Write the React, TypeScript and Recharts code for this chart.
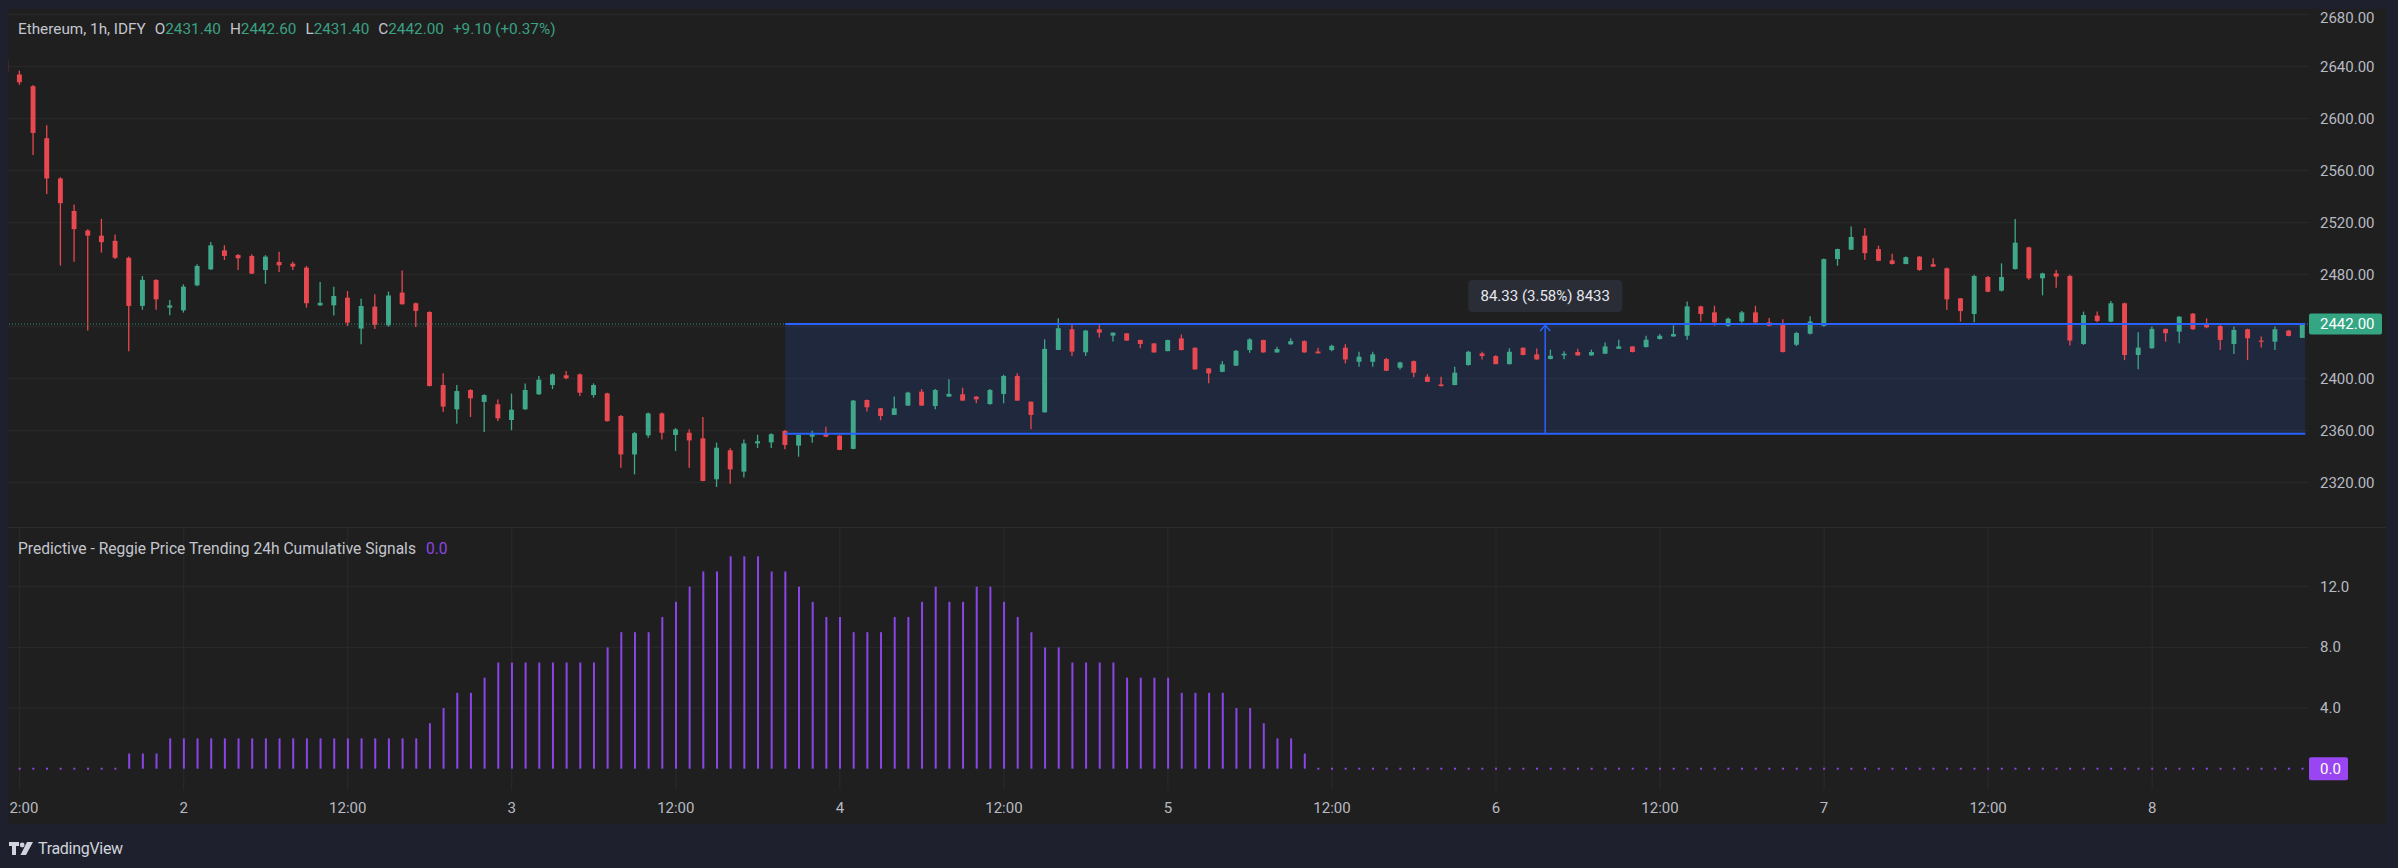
import React from 'react';
import {
  ComposedChart,
  Bar,
  Scatter,
  XAxis,
  YAxis,
  CartesianGrid,
  ReferenceLine,
  ReferenceArea,
} from 'recharts';

// ---------------- DATA ----------------
const FIRST_CANDLE_HOUR = -13; // hours from day "2" 00:00
const candleOpen = [
  2645, 2634, 2625, 2585, 2554, 2529, 2514, 2510, 2506, 2493, 2456, 2476,
  2454.6, 2452.6, 2471.8, 2484.1, 2498.7, 2495.1, 2494.4, 2483.6, 2489.8, 2488.5, 2485.4, 2456.4,
  2456.4, 2462.3, 2438.5, 2455.4, 2441, 2466.2, 2458, 2451.3, 2395.1, 2376.4, 2391.3, 2382.1,
  2380.3, 2368.2, 2376.4, 2388, 2395.1, 2402.6, 2403.3, 2387.4, 2388.7, 2371.3, 2341.7, 2356.4,
  2373.3, 2356.7, 2358.4, 2354.1, 2322.6, 2344.9, 2328.5, 2350.2, 2351, 2359.8, 2348.5, 2355.4,
  2357.5, 2356.2, 2346, 2383.6, 2377.2, 2372.1, 2379.3, 2390, 2379, 2386.2, 2388, 2386.2,
  2380.5, 2388.2, 2402.1, 2382.3, 2374.1, 2422.1, 2438, 2420.3, 2438, 2433.1, 2434.9, 2429.8,
  2427.1, 2421.2, 2431, 2423.8, 2407.9, 2405.3, 2410, 2422, 2429.7, 2420.2, 2426.4, 2428.9,
  2420.9, 2422, 2423.8, 2413, 2413, 2415.1, 2408.4, 2413.5, 2401.5, 2395.6, 2395.1, 2410.5,
  2419.4, 2417.4, 2411.2, 2423.8, 2418.7, 2415.1, 2417.9, 2420.5, 2417.9, 2419.2, 2423, 2424.8,
  2424.3, 2430.5, 2432.5, 2433, 2455.6, 2451, 2440.7, 2444, 2451, 2443.3, 2442.3, 2426.1,
  2434.6, 2440.7, 2492, 2499.2, 2510, 2499.7, 2491, 2488.2, 2493.9, 2488, 2484.9, 2461.8,
  2449.8, 2478.2, 2467.7, 2484.3, 2501, 2477.2, 2481, 2479, 2426.7, 2448.5, 2443.9, 2458,
  2418.2, 2423.4, 2438.3, 2436.2, 2450, 2441.3, 2440.5, 2426.7, 2438, 2429.3, 2428.5, 2437, 2431.4,
];
const candleHigh = [
  2648, 2637, 2626, 2595, 2555, 2534, 2515, 2523, 2511, 2494, 2479, 2476.5,
  2460.5, 2472.6, 2488, 2505.1, 2502.6, 2496, 2495.7, 2495, 2497.7, 2490, 2486.7, 2474.4,
  2470.8, 2467.4, 2461.5, 2464.9, 2467, 2483.3, 2458.5, 2451.8, 2404.1, 2395.1, 2392, 2388,
  2384, 2388.5, 2396.2, 2402, 2404, 2405.9, 2404, 2396.4, 2389.2, 2372, 2359, 2374,
  2374, 2362, 2361, 2370.5, 2350.8, 2346.4, 2353.3, 2356.9, 2358, 2360.5, 2357, 2360,
  2363.1, 2356.5, 2383.5, 2384, 2377.5, 2386.2, 2390, 2392.1, 2392, 2399.5, 2393, 2386.5,
  2392, 2403, 2404.1, 2382.5, 2430.3, 2446.4, 2441.3, 2437.5, 2441.3, 2435.5, 2435, 2430,
  2427.5, 2430, 2434, 2424, 2408, 2413.5, 2422, 2431, 2430, 2424.6, 2431, 2429.5,
  2423.8, 2426, 2426.6, 2420.7, 2420.7, 2416, 2413, 2414, 2403.5, 2401.5, 2409.2, 2421.5,
  2420.7, 2418, 2423.3, 2424, 2423.3, 2422.3, 2421, 2423, 2422.3, 2427.9, 2430, 2425,
  2433, 2434.3, 2441, 2459.4, 2456, 2456.1, 2447, 2452, 2456.1, 2446.6, 2445.8, 2436,
  2448, 2492.5, 2500, 2517.1, 2515.8, 2502.3, 2496.1, 2494, 2494.2, 2492.6, 2485.5, 2462,
  2480, 2479, 2488.7, 2522.8, 2501.5, 2481.5, 2483.6, 2480, 2451.6, 2451.6, 2459.8, 2458.5,
  2435.7, 2440.1, 2438.5, 2448, 2450.5, 2446.4, 2441, 2440.1, 2438.5, 2432.4, 2440.1, 2437.5, 2442.6,
];
const candleLow = [
  2634, 2626, 2572, 2542, 2487, 2490, 2437, 2497, 2492, 2421, 2453, 2453,
  2448.7, 2450.8, 2471, 2483.6, 2491.3, 2483.6, 2480.5, 2473, 2482, 2483.6, 2454.6, 2456,
  2448.5, 2440.5, 2426.4, 2438.3, 2440, 2457, 2439.7, 2394, 2374.4, 2365.4, 2370.5, 2359,
  2367.5, 2360.3, 2376, 2387.5, 2392, 2399.5, 2386.7, 2385.4, 2367, 2331.5, 2326.4, 2354.6,
  2353.3, 2344.3, 2331.5, 2321, 2316.7, 2319.2, 2323.9, 2346.6, 2346.6, 2345.7, 2340, 2350.8,
  2355, 2345, 2345.7, 2374.7, 2368, 2372, 2379, 2379, 2376.4, 2386, 2383, 2381,
  2380, 2381, 2383, 2361.1, 2374, 2422, 2417.5, 2417.5, 2431.6, 2428.5, 2429, 2423.4,
  2420, 2421, 2421.8, 2407, 2396.4, 2405, 2409.8, 2420, 2420, 2420, 2426, 2420,
  2419.4, 2421, 2411.7, 2409.2, 2409.2, 2405.8, 2407, 2401, 2397.4, 2394, 2394.9, 2410,
  2414.8, 2411, 2410.9, 2418, 2414.6, 2414.9, 2415, 2417.7, 2417.7, 2419, 2422.8, 2420.2,
  2424, 2430.2, 2432.2, 2430, 2444, 2440.7, 2440, 2443, 2442.8, 2440.3, 2420.2, 2425,
  2434, 2440, 2486.9, 2499, 2491.5, 2490.4, 2487.9, 2488, 2483, 2485.9, 2452.9, 2443.9,
  2443.4, 2466.5, 2467, 2484, 2476, 2464.1, 2470, 2425.5, 2426, 2443.4, 2443.4, 2414.3,
  2407.2, 2423, 2428.5, 2427.2, 2437.7, 2438.8, 2422.1, 2419, 2414.3, 2424, 2422, 2432.6, 2431.4,
];
const candleClose = [
  2636, 2628, 2589, 2554, 2535, 2515, 2510, 2505, 2493, 2456, 2476, 2461,
  2456.4, 2470.8, 2486.7, 2502.6, 2494.4, 2492.6, 2480.8, 2493.9, 2487.2, 2486.2, 2458, 2458.4,
  2463.6, 2443.1, 2455.9, 2441.4, 2464, 2457.2, 2452.1, 2394.4, 2378.5, 2390.5, 2384.9, 2387.4,
  2369.5, 2376.1, 2391.3, 2399.2, 2403.3, 2400.3, 2389.2, 2395.1, 2367.3, 2341.7, 2358.1, 2373.3,
  2358.4, 2361, 2352.5, 2321.3, 2346.9, 2330.2, 2350.2, 2351.9, 2357.3, 2349, 2356.7, 2357.5,
  2355.4, 2345.2, 2383.1, 2378, 2371.3, 2377.2, 2389.3, 2379.3, 2391.3, 2388.3, 2383.1, 2384.1,
  2391.3, 2402.1, 2383.1, 2372.1, 2422.9, 2438.8, 2420.8, 2437, 2435.4, 2435.4, 2429.3, 2426.7,
  2420.2, 2429.7, 2422, 2407.1, 2404.1, 2411, 2421.5, 2430.2, 2420.2, 2422.8, 2428.9, 2420.2,
  2419.5, 2425.3, 2414.8, 2416.9, 2418.7, 2406.1, 2412.5, 2404.6, 2397.6, 2394.3, 2404.6, 2420.7,
  2417.4, 2411.2, 2420.7, 2418.2, 2414.8, 2417.6, 2419.2, 2417.9, 2420.5, 2424.8, 2424.8, 2420.5,
  2430, 2433, 2434.3, 2455.6, 2449.7, 2443.3, 2446.1, 2451, 2443.3, 2440.7, 2420.5, 2435.1,
  2444, 2492, 2499.7, 2509, 2496.6, 2490.7, 2488.2, 2493.5, 2483.6, 2486.2, 2461, 2452,
  2479, 2466.9, 2478.2, 2504.6, 2477.2, 2481, 2478.5, 2429.3, 2449, 2444.4, 2458, 2418.2,
  2423.9, 2438.3, 2435, 2447.7, 2438, 2439.5, 2429.8, 2437.5, 2431.1, 2428.5, 2438, 2432.9, 2442,
];

const FIRST_SIGNAL_HOUR = -12;
const signalValues = [
  0, 0, 0, 0, 0, 0, 0, 0, 1, 1, 1, 2,
  2, 2, 2, 2, 2, 2, 2, 2, 2, 2, 2, 2,
  2, 2, 2, 2, 2, 2, 3, 4, 5, 5, 6, 7,
  7, 7, 7, 7, 7, 7, 7, 8, 9, 9, 9, 10,
  11, 12, 13, 13, 14, 14, 14, 13, 13, 12, 11, 10,
  10, 9, 9, 9, 10, 10, 11, 12, 11, 11, 12, 12,
  11, 10, 9, 8, 8, 7, 7, 7, 7, 6, 6, 6,
  6, 5, 5, 5, 5, 4, 4, 3, 2, 2, 1, 0,
  0, 0, 0, 0, 0, 0, 0, 0, 0, 0, 0, 0,
  0, 0, 0, 0, 0, 0, 0, 0, 0, 0, 0, 0,
  0, 0, 0, 0, 0, 0, 0, 0, 0, 0, 0, 0,
  0, 0, 0, 0, 0, 0, 0, 0, 0, 0, 0, 0,
  0, 0, 0, 0, 0, 0, 0, 0, 0, 0, 0, 0,
  0, 0, 0, 0, 0, 0, 0, 0, 0, 0, 0, 0,
];

const timeTicks = [-12, 0, 12, 24, 36, 48, 60, 72, 84, 96, 108, 120, 132, 144];
const timeTickLabels = ['12:00', '2', '12:00', '3', '12:00', '4', '12:00', '5', '12:00', '6', '12:00', '7', '12:00', '8'];
const priceGridValues = [2320, 2360, 2400, 2440, 2480, 2520, 2560, 2600, 2640, 2680];
const priceTicks = [2320, 2360, 2400, 2440, 2442, 2480, 2520, 2560, 2600, 2640, 2680];
const signalTicks = [0, 4, 8, 12];
const signalGridValues = [4, 8, 12];

const lastPrice = 2442.0;
const lastSignal = 0.0;
const measureLow = 2357.67;
const measureHigh = 2442.0;
const measureStartHour = 44;
const measureEndHour = 155.2;
const measureArrowHour = 99.6;
const measureLabelPrice = 2463.6;
const measureLabel = '84.33 (3.58%) 8433';

const titleSymbol = 'Ethereum, 1h, IDFY';
const titleOHLC = [
  ['O', '2431.40'],
  ['H', '2442.60'],
  ['L', '2431.40'],
  ['C', '2442.00'],
];
const titleChange = '+9.10 (+0.37%)';
const indicatorTitle = 'Predictive - Reggie Price Trending 24h Cumulative Signals';
const indicatorValue = '0.0';

// ---------------- STYLE ----------------
const FONT = "Roboto, 'Liberation Sans', Arial, sans-serif";
const UP = '#3fa88a';
const DOWN = '#e8484f';
const PURPLE = '#8b45e6';
const PURPLE_BOX = '#9a45f2';
const GRID = '#2b2b2b';
const AXIS_TEXT = '#b7bac2';
const BG = '#1f1f1f';
const FRAME = '#1e212d';
const BLUE = '#2962ff';

const X_DOMAIN: [number, number] = [-12.853, 155.4];
const PRICE_DOMAIN: [number, number] = [2285.9, 2683.6];
const SIGNAL_DOMAIN: [number, number] = [-1.404, 15.867];

const candleData = candleOpen.map((o, i) => ({
  h: FIRST_CANDLE_HOUR + i,
  o,
  hi: candleHigh[i],
  lo: candleLow[i],
  c: candleClose[i],
  range: [candleLow[i], candleHigh[i]],
}));

const signalData = signalValues.map((v, i) => ({ h: FIRST_SIGNAL_HOUR + i, sig: v }));
const zeroSignals = signalData.filter((d) => d.sig === 0);

const measureArrow = [{ h: measureArrowHour, p: measureHigh }];
const measureBox = [{ h: measureArrowHour, p: measureLabelPrice }];

// ---------------- SHAPES ----------------
const CandleShape = (props: any) => {
  const { x, y, width, height, payload } = props;
  if (x == null || y == null || !payload) return <g />;
  const { o, c, hi, lo } = payload;
  const span = hi - lo;
  const h = Math.abs(height || 0);
  const top = Math.min(y, y + (height || 0));
  const k = span > 0 ? h / span : 0;
  const yO = top + (hi - o) * k;
  const yC = top + (hi - c) * k;
  const col = c >= o ? UP : DOWN;
  const cx = x + width / 2;
  const bodyTop = Math.min(yO, yC);
  const bodyH = Math.max(1.2, Math.abs(yO - yC));
  return (
    <g>
      <line x1={cx} x2={cx} y1={top} y2={top + h} stroke={col} strokeWidth={1.3} />
      <rect x={x} y={bodyTop} width={width} height={bodyH} fill={col} />
    </g>
  );
};

const ArrowHead = (props: any) => {
  const { cx, cy } = props;
  if (cx == null) return <g />;
  return (
    <path
      d={`M${cx - 5},${cy + 7} L${cx},${cy + 1} L${cx + 5},${cy + 7}`}
      stroke={BLUE}
      strokeWidth={1.5}
      fill="none"
    />
  );
};

const MeasureLabel = (props: any) => {
  const { cx, cy } = props;
  if (cx == null) return <g />;
  return (
    <g>
      <rect x={cx - 77} y={cy - 16} width={154} height={32} rx={4} fill="#2a2d36" />
      <text
        x={cx}
        y={cy}
        textAnchor="middle"
        dominantBaseline="central"
        fill="#e6e8ee"
        fontSize={15}
        fontFamily={FONT}
      >
        {measureLabel}
      </text>
    </g>
  );
};

const ZeroMark = (props: any) => {
  const { cx, cy } = props;
  if (cx == null) return <g />;
  return <rect x={cx - 1} y={cy - 1} width={2} height={2} fill={PURPLE} />;
};

const PriceTick = (props: any) => {
  const { x, y, payload } = props;
  const v = payload?.value;
  if (v === 2440) return <g />;
  if (v === lastPrice) {
    return (
      <g>
        <rect x={x - 11} y={y - 10.5} width={73} height={21} rx={2} fill="#34a683" />
        <text x={x} y={y} dominantBaseline="central" fill="#ffffff" fontSize={15} fontFamily={FONT}>
          {lastPrice.toFixed(2)}
        </text>
      </g>
    );
  }
  // keep the top label inside the pane, as the reference does
  const ty = Math.max(y, 8.5);
  return (
    <text x={x} y={ty} dominantBaseline="central" fill={AXIS_TEXT} fontSize={15} fontFamily={FONT}>
      {Number(v).toFixed(2)}
    </text>
  );
};

const SignalTick = (props: any) => {
  const { x, y, payload } = props;
  const v = payload?.value;
  if (v === lastSignal) {
    return (
      <g>
        <rect x={x - 11} y={y - 11.5} width={39} height={23} rx={2} fill={PURPLE_BOX} />
        <text x={x} y={y} dominantBaseline="central" fill="#ffffff" fontSize={15} fontFamily={FONT}>
          {lastSignal.toFixed(1)}
        </text>
      </g>
    );
  }
  return (
    <text x={x} y={y} dominantBaseline="central" fill={AXIS_TEXT} fontSize={15} fontFamily={FONT}>
      {Number(v).toFixed(1)}
    </text>
  );
};

const TimeTick = (props: any) => {
  const { x, y, payload } = props;
  const idx = timeTicks.indexOf(payload?.value);
  const label = idx >= 0 ? timeTickLabels[idx] : '';
  return (
    <text
      x={x}
      y={y + 18}
      textAnchor="middle"
      dominantBaseline="central"
      fill={AXIS_TEXT}
      fontSize={15}
      fontFamily={FONT}
    >
      {label}
    </text>
  );
};

const TVLogo = () => (
  <svg width={26} height={14} viewBox="0 0 26 14" style={{ position: 'absolute', left: 9, top: 842 }}>
    <path d="M0 0 H10 V4 H7 V13 H3 V4 H0 Z" fill="#d1d4dc" />
    <circle cx={13.2} cy={3} r={2.4} fill="#d1d4dc" />
    <path d="M18 0 H24 L17 13 H11.5 Z" fill="#d1d4dc" />
  </svg>
);

export default function App() {
  return (
    <div
      style={{
        position: 'fixed',
        left: 0,
        top: 0,
        width: 2398,
        height: 868,
        background: FRAME,
        overflow: 'hidden',
        fontFamily: FONT,
      }}
    >
      <div
        style={{
          position: 'absolute',
          left: 8,
          top: 9,
          width: 2378,
          height: 815,
          background: BG,
          overflow: 'hidden',
        }}
      >
        {/* price pane */}
        <div style={{ position: 'absolute', left: 0, top: 0 }}>
          <ComposedChart
            width={2378}
            height={518}
            data={candleData}
            margin={{ top: 1, right: 0, bottom: 0, left: 0 }}
          >
            <CartesianGrid stroke={GRID} horizontalValues={priceGridValues} verticalValues={timeTicks} />
            <XAxis
              dataKey="h"
              type="number"
              domain={X_DOMAIN}
              allowDataOverflow
              ticks={timeTicks}
              interval={0}
              height={0}
              tick={false}
              axisLine={false}
              tickLine={false}
            />
            <YAxis
              orientation="right"
              type="number"
              domain={PRICE_DOMAIN}
              allowDataOverflow
              ticks={priceTicks}
              interval={0}
              width={78}
              tick={PriceTick}
              tickSize={0}
              tickMargin={12}
              axisLine={false}
              tickLine={false}
            />
            <ReferenceArea
              x1={measureStartHour}
              x2={measureEndHour}
              y1={measureLow}
              y2={measureHigh}
              fill={BLUE}
              fillOpacity={0.14}
              stroke="none"
            />
            <ReferenceLine y={lastPrice} stroke="#2f8f77" strokeDasharray="1 2" strokeWidth={1} />
            <Bar dataKey="range" barSize={9} shape={CandleShape} isAnimationActive={false} />
            <ReferenceLine
              segment={[
                { x: measureStartHour, y: measureHigh },
                { x: measureEndHour, y: measureHigh },
              ]}
              stroke={BLUE}
              strokeWidth={2}
            />
            <ReferenceLine
              segment={[
                { x: measureStartHour, y: measureLow },
                { x: measureEndHour, y: measureLow },
              ]}
              stroke={BLUE}
              strokeWidth={2}
            />
            <ReferenceLine
              segment={[
                { x: measureArrowHour, y: measureLow },
                { x: measureArrowHour, y: measureHigh },
              ]}
              stroke={BLUE}
              strokeWidth={1.5}
            />
            <Scatter data={measureArrow} dataKey="p" shape={ArrowHead} isAnimationActive={false} />
            <Scatter data={measureBox} dataKey="p" shape={MeasureLabel} isAnimationActive={false} />
          </ComposedChart>
        </div>

        {/* pane separator */}
        <div style={{ position: 'absolute', left: 0, top: 518, width: 2378, height: 1, background: '#2e2e2e' }} />

        {/* indicator pane */}
        <div style={{ position: 'absolute', left: 0, top: 519 }}>
          <ComposedChart
            width={2378}
            height={296}
            data={signalData}
            margin={{ top: 0, right: 0, bottom: 0, left: 0 }}
          >
            <CartesianGrid stroke={GRID} horizontalValues={signalGridValues} verticalValues={timeTicks} />
            <XAxis
              dataKey="h"
              type="number"
              domain={X_DOMAIN}
              allowDataOverflow
              ticks={timeTicks}
              interval={0}
              height={34}
              tick={TimeTick}
              tickSize={0}
              tickMargin={0}
              axisLine={false}
              tickLine={false}
            />
            <YAxis
              orientation="right"
              type="number"
              domain={SIGNAL_DOMAIN}
              allowDataOverflow
              ticks={signalTicks}
              interval={0}
              width={78}
              tick={SignalTick}
              tickSize={0}
              tickMargin={12}
              axisLine={false}
              tickLine={false}
            />
            <Bar dataKey="sig" barSize={2} fill={PURPLE} isAnimationActive={false} />
            <Scatter data={zeroSignals} dataKey="sig" shape={ZeroMark} isAnimationActive={false} />
          </ComposedChart>
        </div>

        {/* legends */}
        <div
          style={{
            position: 'absolute',
            left: 10,
            top: 11,
            fontSize: 15.3,
            lineHeight: '18px',
            color: '#c3c6ce',
            whiteSpace: 'nowrap',
          }}
        >
          <span>{titleSymbol}</span>
          {titleOHLC.map(([k, v]) => (
            <span key={k} style={{ marginLeft: 9 }}>
              {k}
              <span style={{ color: '#3aa183' }}>{v}</span>
            </span>
          ))}
          <span style={{ marginLeft: 9, color: '#3aa183' }}>{titleChange}</span>
        </div>
        <div
          style={{
            position: 'absolute',
            left: 10,
            top: 531,
            fontSize: 15.6,
            lineHeight: '18px',
            color: '#c3c6ce',
            whiteSpace: 'nowrap',
          }}
        >
          <span>{indicatorTitle}</span>
          <span style={{ marginLeft: 10, color: PURPLE }}>{indicatorValue}</span>
        </div>
      </div>

      <TVLogo />
      <div
        style={{
          position: 'absolute',
          left: 38,
          top: 839,
          fontSize: 16,
          lineHeight: '20px',
          color: '#d1d4dc',
          letterSpacing: -0.3,
        }}
      >
        TradingView
      </div>
    </div>
  );
}
